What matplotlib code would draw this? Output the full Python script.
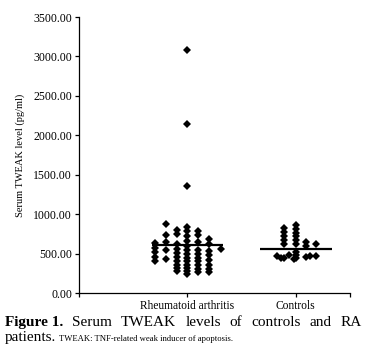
import matplotlib
matplotlib.use('Agg')
import matplotlib.pyplot as plt
from matplotlib.ticker import FormatStrFormatter

plt.rcParams['font.family'] = ['Liberation Serif', 'DejaVu Serif']

# Serum TWEAK (pg/ml)
groups = ['Rheumatoid arthritis', 'Controls']
ra_values = [
    [640, 570, 520, 460, 410],
    [870, 735, 650, 545, 430],
    [800, 750, 620, 560, 510, 460, 410, 360, 320, 280],
    [3080, 2140, 1360, 840, 780, 720, 660, 600, 550, 500, 450, 400, 360, 320, 280, 240],
    [790, 735, 650, 545, 495, 450, 400, 350, 300, 260],
    [690, 620, 530, 480, 420, 360, 310, 270],
    [555],
]
ctrl_values = [
    [470],
    [440],
    [820, 770, 720, 670, 620, 450],
    [480],
    [430],
    [860, 810, 760, 720, 670, 620, 520, 480, 440],
    [650, 600, 460],
    [470],
    [620, 470],
]
medians = [610, 555]

# horizontal spread of the dot columns (layout only)
ra_offsets = [-0.30, -0.20, -0.10, 0.0, 0.10, 0.20, 0.31]
ctrl_offsets = [-0.17, -0.14, -0.11, -0.06, -0.02, 0.0, 0.09, 0.13, 0.19]

fig = plt.figure(figsize=(3.65, 3.58), dpi=100)
ax = fig.add_axes([79/365, 65/358, 271/365, 276/358])

for pos, cols, offs in [(1, ra_values, ra_offsets), (2, ctrl_values, ctrl_offsets)]:
    for vals, off in zip(cols, offs):
        ax.plot([pos + off]*len(vals), vals, 'D', color='black', ms=3.7, mew=0)

for pos, m in zip([1, 2], medians):
    ax.plot([pos - 0.33, pos + 0.33], [m, m], color='black', lw=1.6, solid_capstyle='butt')

ax.set_xlim(0, 2.5)
ax.set_ylim(0, 3500)
ax.set_yticks(range(0, 3501, 500))
ax.yaxis.set_major_formatter(FormatStrFormatter('%.2f'))
ax.set_xticks([0, 1, 2, 2.5])
ax.set_xticklabels(['', groups[0], groups[1], ''])
ax.spines['top'].set_visible(False)
ax.spines['right'].set_visible(False)
for s in ['left', 'bottom']:
    ax.spines[s].set_linewidth(0.9)
ax.tick_params(axis='y', length=3, width=0.9, labelsize=8.5, pad=2)
ax.tick_params(axis='x', length=3, width=0.9, labelsize=8.3, pad=2)
ax.set_ylabel('Serum TWEAK level (pg/ml)', fontsize=7.5, labelpad=6)

# caption, first line justified across the width
fig.canvas.draw()
r = fig.canvas.get_renderer()
words = ['Figure 1.', 'Serum', 'TWEAK', 'levels', 'of', 'controls', 'and', 'RA']
texts = []
for i, w in enumerate(words):
    t = fig.text(0, 0, w, fontsize=11, weight='bold' if i == 0 else 'normal',
                 va='baseline', ha='left')
    texts.append(t)
widths = [t.get_window_extent(r).width for t in texts]
x0, x1 = 5, 362
gap = (x1 - x0 - sum(widths)) / (len(words) - 1)
x = x0
for t, wd in zip(texts, widths):
    t.set_position((x/365, 1 - 326/358))
    x += wd + gap

t2 = fig.text(5/365, 1 - 341/358, 'patients.', fontsize=11, va='baseline', ha='left')
w2 = t2.get_window_extent(r).width
fig.text((5 + w2 + 3)/365, 1 - 341/358, 'TWEAK: TNF-related weak inducer of apoptosis.',
         fontsize=6.2, va='baseline', ha='left')

fig.savefig('out.png', dpi=100)
